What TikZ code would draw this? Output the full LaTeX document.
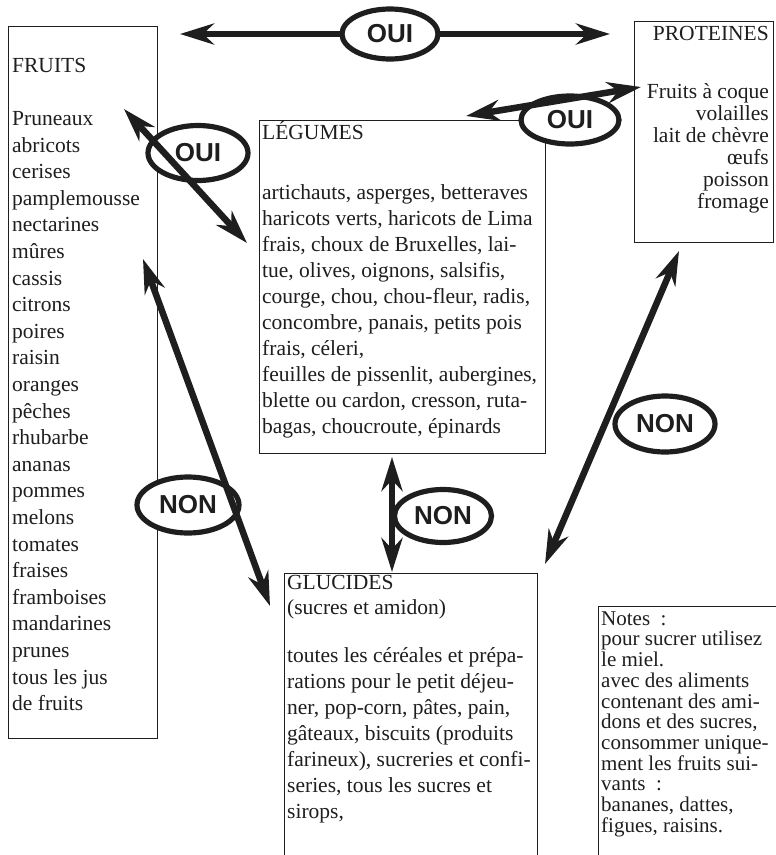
\documentclass[tikz,border=0pt]{standalone}
\usepackage{fontspec}
\setmainfont{Liberation Serif}
\newfontfamily\ellfont{Liberation Sans}
\usetikzlibrary{arrows.meta,shapes.geometric}
\definecolor{ink}{HTML}{1E1E1E}
\begin{document}
\begin{tikzpicture}[x=1pt,y=-1pt,
  box/.style={draw=ink, line width=1.3pt, rectangle, inner sep=0pt, anchor=north west},
  txt/.style={text=ink, inner sep=0pt, align=left, anchor=north west},
  ell/.style={ellipse, draw=ink, line width=5.2pt, fill=white, inner sep=0pt, text=ink,
    font=\ellfont\bfseries\fontsize{26}{26}\selectfont},
  arr/.style={draw=ink, line width=6.5pt,
    {Stealth[length=34pt,width=21pt,inset=11pt]}-{Stealth[length=34pt,width=21pt,inset=11pt]}}
]
\useasboundingbox (0,0) rectangle (776,855);
\fill[white] (0,0) rectangle (776,855);

% boxes
\node[box, minimum width=149pt, minimum height=712pt] (fruits) at (8,26) {};
\node[box, minimum width=286pt, minimum height=333pt] (legumes) at (259,120) {};
\node[box, minimum width=139pt, minimum height=221pt] (proteines) at (634,21) {};
\node[box, minimum width=253pt, minimum height=300pt] (glucides) at (284,573) {};
\node[box, minimum width=190pt, minimum height=300pt] (notes) at (598,606) {};

% texts
\node[txt, font=\fontsize{21.5}{26.6}\selectfont] (tfruits) at (12,52)
 {\rule{0pt}{20pt}FRUITS\\ \\Pruneaux\\abricots\\cerises\\pamplemousse\\nectarines\\mûres\\cassis\\citrons\\poires\\raisin\\oranges\\pêches\\rhubarbe\\ananas\\pommes\\melons\\tomates\\fraises\\framboises\\mandarines\\prunes\\tous les jus\\de fruits};

\node[txt, font=\fontsize{21.5}{26}\selectfont] (tleg) at (262,119) {\rule{0pt}{20pt}LÉGUMES};
\node[txt, font=\fontsize{21.5}{26}\selectfont] (tlegb) at (262,179)
 {\rule{0pt}{20pt}artichauts, asperges, betteraves\\haricots verts, haricots de Lima\\frais, choux de Bruxelles, lai-\\tue, olives, oignons, salsifis,\\courge, chou, chou-fleur, radis,\\concombre, panais, petits pois\\frais, céleri,\\feuilles de pissenlit, aubergines,\\blette ou cardon, cresson, ruta-\\bagas, choucroute, épinards};

\node[txt, anchor=north east, align=right, font=\fontsize{21.5}{22}\selectfont] (tprot) at (769,20) {\rule{0pt}{20pt}PROTEINES};
\node[txt, anchor=north east, align=right, font=\fontsize{21.5}{22}\selectfont] (tprotb) at (769,78)
 {\rule{0pt}{20pt}Fruits à coque\\volailles\\lait de chèvre\\œufs\\poisson\\fromage};

\node[txt, font=\fontsize{21.5}{25}\selectfont] (tgluc) at (287,569) {\rule{0pt}{20pt}GLUCIDES\\(sucres et amidon)};
\node[txt, font=\fontsize{21.5}{26}\selectfont] (tglucb) at (287,642)
 {\rule{0pt}{20pt}toutes les céréales et prépa-\\rations pour le petit déjeu-\\ner, pop-corn, pâtes, pain,\\gâteaux, biscuits (produits\\farineux), sucreries et confi-\\series, tous les sucres et\\sirops,};

\node[txt, font=\fontsize{21}{20.7}\selectfont] (tnotes) at (601,605)
 {\rule{0pt}{20pt}Notes~~:\\pour sucrer utilisez\\le miel.\\avec des aliments\\contenant des ami-\\dons et des sucres,\\consommer unique-\\ment les fruits sui-\\vants~~:\\bananes, dattes,\\figues, raisins.};

% arrow end points
\coordinate (tL) at (180,34);
\coordinate (tR) at (610,34);
\coordinate (flA) at (124,109);
\coordinate (flB) at (247,243);
\coordinate (lpA) at (466,116);
\coordinate (lpB) at (641,87);
\coordinate (fgA) at (143,259);
\coordinate (fgB) at (270,606);
\coordinate (lgA) at (392,457);
\coordinate (lgB) at (392,572);
\coordinate (pgA) at (679,251);
\coordinate (pgB) at (545,564);

% top arrow behind its label
\draw[arr] (tL) -- (tR);

% labels
\node[ell, minimum width=96pt, minimum height=50pt] (ouiT) at (390,34) {OUI};
\node[ell, minimum width=100pt, minimum height=55pt] (ouiFL) at (198,153) {OUI};
\node[ell, minimum width=98pt, minimum height=48pt] (ouiLP) at (570,120) {OUI};
\node[ell, minimum width=102pt, minimum height=56pt] (nonFG) at (188,505) {NON};
\node[ell, minimum width=97pt, minimum height=53pt] (nonLG) at (443,516) {NON};
\node[ell, minimum width=100pt, minimum height=56pt] (nonPG) at (665,424) {NON};

% other arrows
\draw[arr] (flA) -- (flB);
\draw[arr] (lpA) -- (lpB);
\draw[arr] (fgA) -- (fgB);
\draw[arr] (lgA) -- (lgB);
\draw[arr] (pgA) -- (pgB);
\end{tikzpicture}
\end{document}
